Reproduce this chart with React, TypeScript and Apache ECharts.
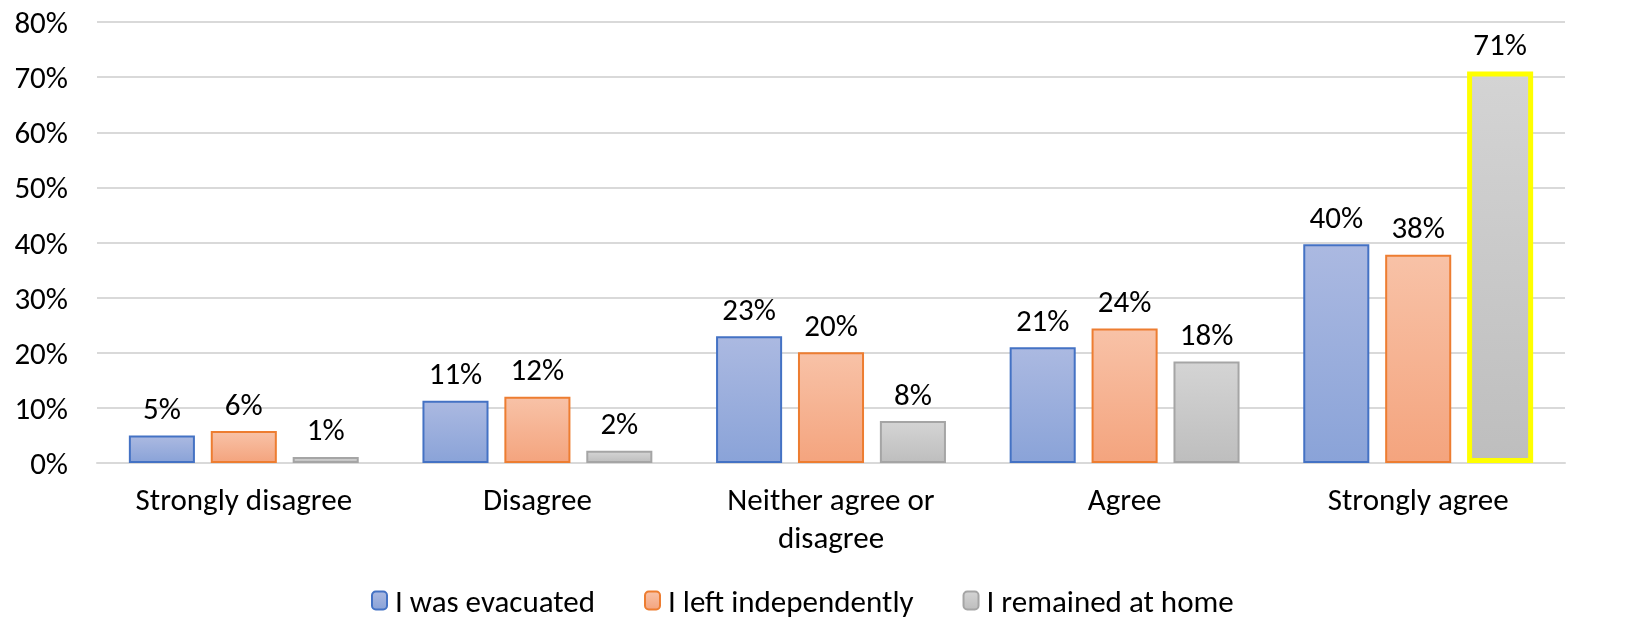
import React, { useEffect, useRef } from "react";
import * as echarts from "echarts";

const categories = ["Strongly disagree", "Disagree", "Neither agree or\ndisagree", "Agree", "Strongly agree"];
const evacuated = [5.0, 11.3, 23.0, 21.0, 39.7];
const leftIndependently = [5.8, 12.0, 20.1, 24.4, 37.8];
const remainedHome = [1.1, 2.2, 7.6, 18.4, 71.0];
const seriesNames = ["I was evacuated", "I left independently", "I remained at home"];
const yTicks = { min: 0, max: 80, interval: 10 };

const FONT = "Carlito, Lato, sans-serif";
const FS = 31;

const grad = (top: string, bottom: string) =>
  new echarts.graphic.LinearGradient(0, 0, 0, 1, [
    { offset: 0, color: top },
    { offset: 1, color: bottom },
  ]);

export default function App() {
  const ref = useRef<HTMLDivElement>(null);
  useEffect(() => {
    if (!ref.current) return;
    const chart = echarts.init(ref.current, undefined, { renderer: "svg" });
    const label = {
      show: true,
      position: "top" as const,
      distance: 12,
      color: "#000",
      fontSize: FS,
      fontFamily: FONT,
      formatter: (p: any) => Math.round(p.value) + "%",
    };
    const styles = [
      { top: "#abb9e1", bottom: "#8aa3d8", border: "#4472c4" },
      { top: "#f8c2a7", bottom: "#f4a47e", border: "#ed7d31" },
      { top: "#d4d4d4", bottom: "#bebebe", border: "#a5a5a5" },
    ];
    const datasets = [evacuated, leftIndependently, remainedHome];
    chart.setOption({
      animation: false,
      textStyle: { fontFamily: FONT },
      grid: { left: 97, right: 72, top: 22, bottom: 178, containLabel: false },
      legend: {
        bottom: 20,
        left: 366,
        itemWidth: 15,
        itemHeight: 18,
        itemGap: 49,
        textStyle: { fontSize: FS, color: "#000", fontFamily: FONT, padding: [0, 0, 0, 3] },
        data: seriesNames,
      },
      xAxis: {
        type: "category",
        data: categories,
        axisLine: { lineStyle: { color: "#d9d9d9", width: 2 } },
        axisTick: { show: false },
        axisLabel: { color: "#000", fontSize: FS, fontFamily: FONT, margin: 17, lineHeight: 38, interval: 0 },
      },
      yAxis: {
        type: "value",
        min: yTicks.min,
        max: yTicks.max,
        interval: yTicks.interval,
        axisLine: { show: false },
        axisTick: { show: false },
        splitLine: { lineStyle: { color: "#d9d9d9", width: 2 } },
        axisLabel: { color: "#000", fontSize: FS, fontFamily: FONT, margin: 29, formatter: "{value}%" },
      },
      series: datasets.map((d, i) => ({
        name: seriesNames[i],
        type: "bar",
        barGap: "24%",
        barCategoryGap: "21.7%",
        label,
        itemStyle: {
          color: grad(styles[i].top, styles[i].bottom),
          borderColor: styles[i].border,
          borderWidth: 2,
        },
        data: d.map((v, j) =>
          i === 2 && j === 4
            ? { value: v, itemStyle: { borderColor: "#ffff00", borderWidth: 5 } }
            : v
        ),
      })),
    });
    return () => chart.dispose();
  }, []);
  return <div ref={ref} style={{ position: "fixed", left: 0, top: 0, width: 1637, height: 641 }} />;
}
